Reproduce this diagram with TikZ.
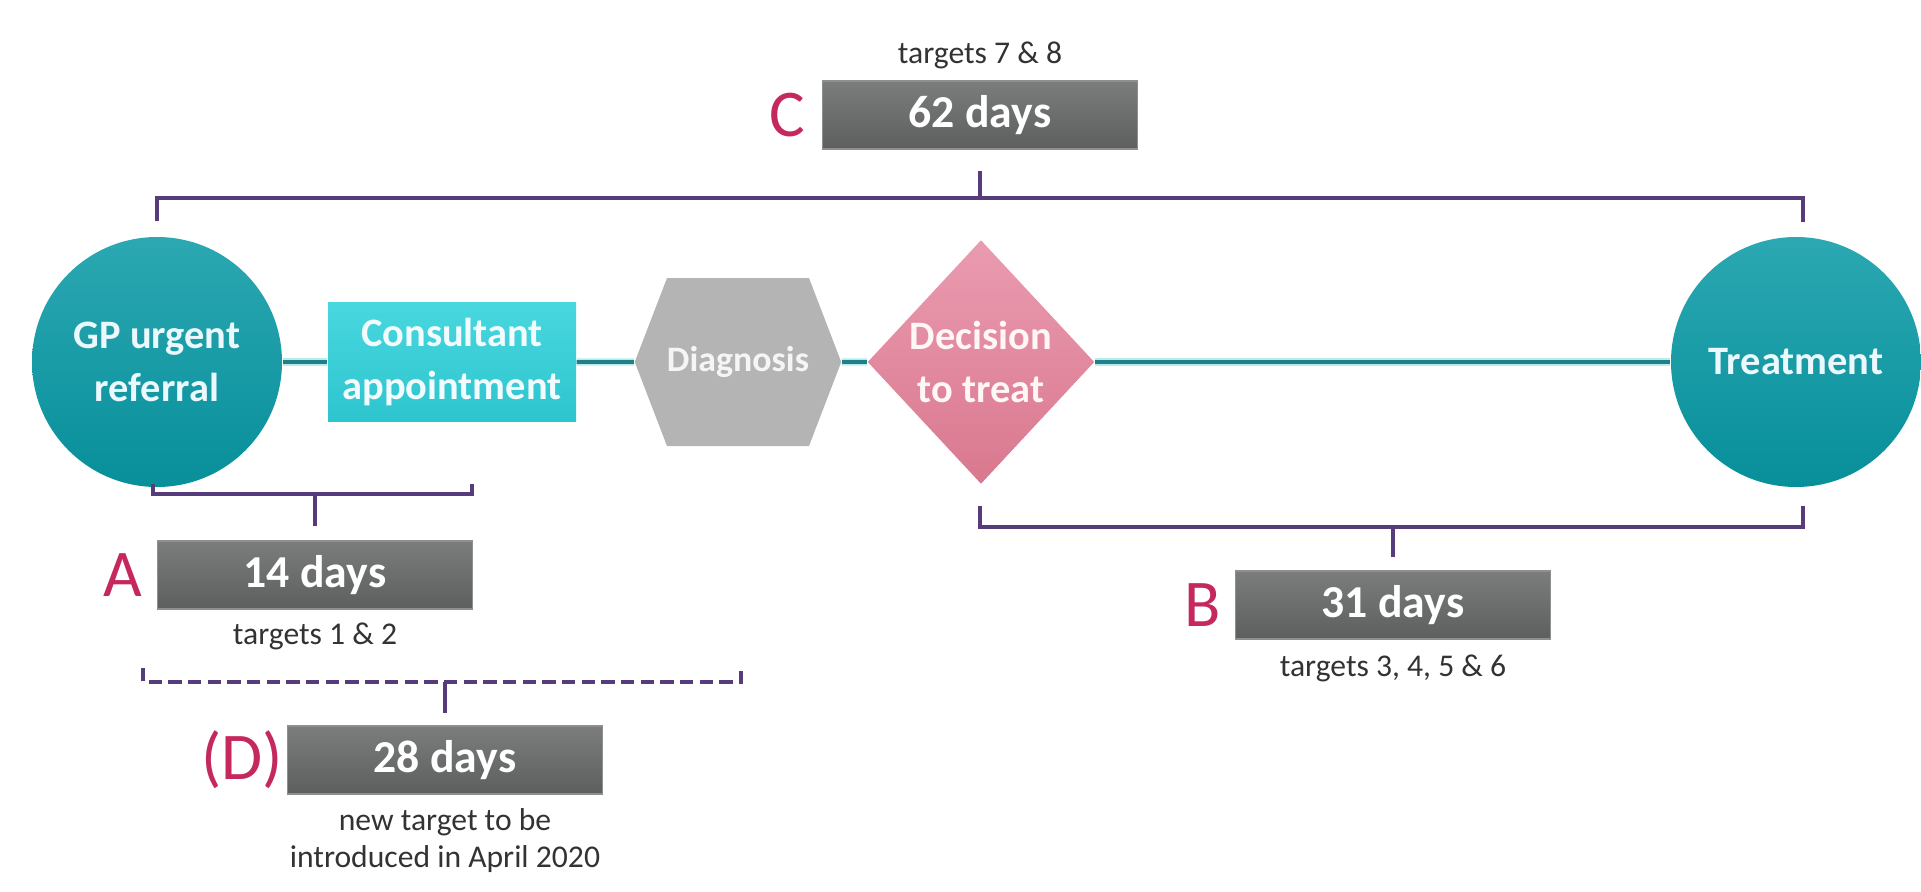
\documentclass[tikz,border=0pt]{standalone}
\usepackage{fontspec}
\setmainfont{Carlito}
\usetikzlibrary{shapes.geometric,shapes.symbols,positioning}
\definecolor{tealtop}{HTML}{2BA8B2}
\definecolor{tealbot}{HTML}{078F9A}
\definecolor{constop}{HTML}{48D7DF}
\definecolor{consbot}{HTML}{2EC5CE}
\definecolor{diaggray}{HTML}{B4B4B4}
\definecolor{dectop}{HTML}{EA9BB0}
\definecolor{decbot}{HTML}{D9788F}
\definecolor{daystop}{HTML}{7B7D7D}
\definecolor{daysbot}{HTML}{5D5F5F}
\definecolor{daysedge}{HTML}{8E9090}
\definecolor{labred}{HTML}{C4285C}
\definecolor{brkpurple}{HTML}{573C7C}
\definecolor{flowteal}{HTML}{217F86}
\definecolor{flowlight}{HTML}{B5ECEE}
\definecolor{notegray}{HTML}{333333}
\begin{document}
\begin{tikzpicture}[
    stage/.style={
        align=center,
        inner sep=0pt,
        font=\bfseries\fontsize{11.5}{15}\selectfont
    },
    circ/.style={stage, circle, minimum size=2.5cm, top color=tealtop, bottom color=tealbot, text=cyan!8},
    consbox/.style={stage, rectangle, minimum width=2.48cm, minimum height=1.19cm, top color=constop, bottom color=consbot, text=cyan!5},
    hexa/.style={stage, signal, signal to=east and west, signal pointer angle=138, fill=diaggray, text=white!92!gray, font=\bfseries\fontsize{10.2}{12}\selectfont, minimum width=1.4cm, minimum height=1.68cm},
    dec/.style={stage, diamond, aspect=0.93, minimum width=2.27cm, minimum height=2.44cm, top color=dectop, bottom color=decbot, text=pink!15},
    days/.style={rectangle, draw=daysedge, line width=0.5pt, top color=daystop, bottom color=daysbot, text=white, font=\bfseries\fontsize{13}{15}\selectfont, minimum width=3.15cm, minimum height=0.68cm},
    tag/.style={text=labred, inner sep=0pt, font=\fontsize{19}{21}\selectfont},
    note/.style={text=notegray, align=center, inner sep=0pt, font=\fontsize{9}{10.5}\selectfont},
    brk/.style={draw=brkpurple, line width=1.2pt},
    flow/.style={draw=flowteal, line width=1.1pt, preaction={draw=flowlight, line width=2pt}}
]
    \useasboundingbox (0,0) rectangle (19.21,8.91);

    \node[circ] (gp) at (1.57,5.29) {GP urgent\\referral};
    \node[consbox] (cons) at (4.52,5.29) {Consultant\\appointment};
    \node[hexa] (diag) at (7.38,5.29) {Diagnosis};
    \node[dec] (dec) at (9.81,5.29) {Decision\\to treat};
    \node[circ] (treat) at (17.96,5.29) {Treatment};

    \draw[flow] (gp) -- (cons);
    \draw[flow] (cons) -- (diag);
    \draw[flow] (diag) -- (dec);
    \draw[flow] (dec) -- (treat);

    \node[days] (d62) at (9.80,7.76) {62 days};
    \node[days] (d14) at (3.15,3.16) {14 days};
    \node[days] (d31) at (13.93,2.86) {31 days};
    \node[days] (d28) at (4.45,1.31) {28 days};

    \node[tag, left=0.16cm of d62] (tagc) {C};
    \node[tag, left=0.14cm of d14] (taga) {A};
    \node[tag, left=0.13cm of d31] (tagb) {B};
    \node[tag, left=0.03cm of d28] (tagd) {(D)};

    \node[note, above=0.1cm of d62] (n62) {targets 7 \& 8};
    \node[note, below=0.12cm of d14] (n14) {targets 1 \& 2};
    \node[note, below=0.14cm of d31] (n31) {targets 3, 4, 5 \& 6};
    \node[note, below=0.13cm of d28] (n28) {new target to be\\introduced in April 2020};

    \coordinate (cmid) at (9.80,6.93);
    \coordinate (amid) at (3.15,3.97);
    \coordinate (bmid) at (13.93,3.64);
    \coordinate (dmid) at (4.45,2.09);

    \draw[brk] ([yshift=0.15cm]gp.north) |- (cmid) -| ([xshift=0.07cm,yshift=0.14cm]treat.north);
    \draw[brk, shorten >=0.21cm] (cmid) -- (d62);
    \draw[brk] (1.53,4.07) |- (amid) -| (4.72,4.07);
    \draw[brk, shorten >=0.14cm] (amid) -- (d14);
    \draw[brk] (9.80,3.85) |- (bmid) -| (18.03,3.85);
    \draw[brk, shorten >=0.13cm] (bmid) -- (d31);
    \draw[brk, dash pattern=on 3.8pt off 1.8pt] (1.43,2.23) |- (dmid) -| (7.41,2.23);
    \draw[brk, shorten >=0.12cm] (dmid) -- (d28);
\end{tikzpicture}
\end{document}
